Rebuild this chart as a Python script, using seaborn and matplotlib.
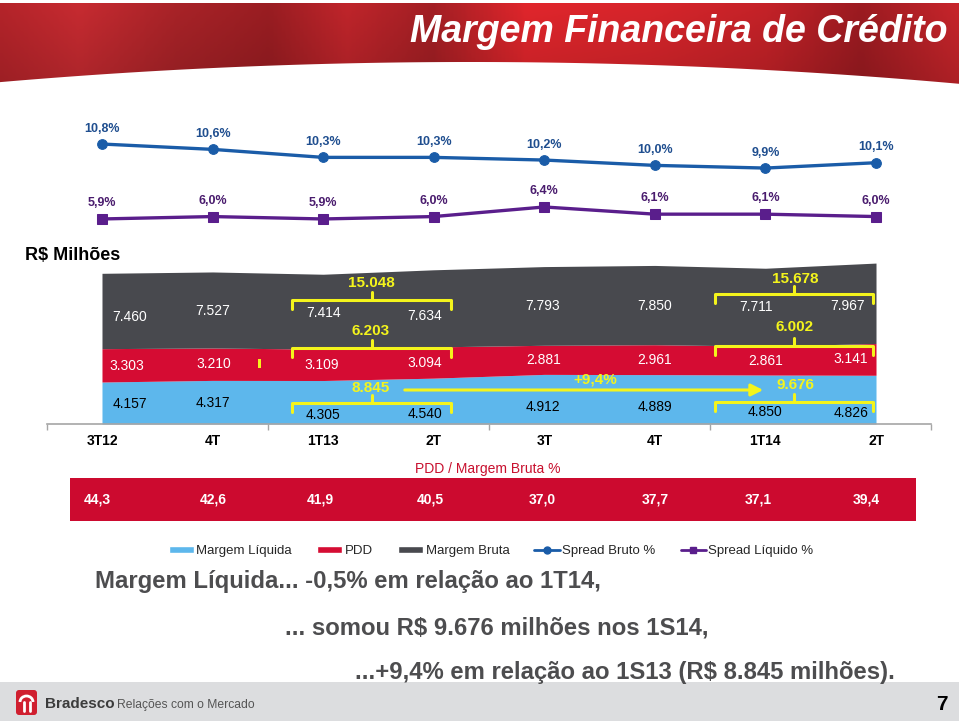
import numpy as np
import pandas as pd
import matplotlib
matplotlib.use('Agg')
import matplotlib.pyplot as plt
from matplotlib.colors import LinearSegmentedColormap
from matplotlib.lines import Line2D
from matplotlib.patches import Patch, Rectangle, FancyBboxPatch, Arc
import seaborn as sns

# Data
quarters = ['3T12', '4T', '1T13', '2T', '3T', '4T', '1T14', '2T']
spread_bruto = [10.8, 10.6, 10.3, 10.3, 10.2, 10.0, 9.9, 10.1]
spread_liquido = [5.9, 6.0, 5.9, 6.0, 6.4, 6.1, 6.1, 6.0]
margem_liquida = [4157, 4317, 4305, 4540, 4912, 4889, 4850, 4826]
pdd = [3303, 3210, 3109, 3094, 2881, 2961, 2861, 3141]
margem_bruta = [7460, 7527, 7414, 7634, 7793, 7850, 7711, 7967]
pdd_ratio = [44.3, 42.6, 41.9, 40.5, 37.0, 37.7, 37.1, 39.4]

df = pd.DataFrame({'idx': range(len(quarters)), 'bruto': spread_bruto, 'liquido': spread_liquido})

W, H = 959, 721
BLUE = '#1A5CA8'
BLUE_T = '#1F4E8F'
PURPLE = '#5A1E8C'
PURPLE_T = '#4A1C6E'
LBLUE = '#5DB7EC'
RED = '#D50C33'
DARK = '#48494E'
YEL = '#F4F41C'


def rect(l, t, r, b):
    # pixel box -> figure fraction
    return [l / W, 1 - b / H, (r - l) / W, (b - t) / H]


def br(v, d=0):
    # brazilian number format
    s = f'{v:,.{d}f}'
    return s.replace(',', 'X').replace('.', ',').replace('X', '.')


sns.set_theme(style='white')
plt.rcParams['font.family'] = ['Liberation Sans', 'DejaVu Sans']

fig = plt.figure(figsize=(W / 100, H / 100), dpi=100)
fig.patch.set_facecolor('white')

# ---- spreads (two lines on separate scales)
ax_l = fig.add_axes(rect(46.7, 120, 931.3, 230))
ax_r = ax_l.twinx()
sns.lineplot(data=df, x='idx', y='bruto', ax=ax_l, color=BLUE, linewidth=2.4,
             marker='o', markersize=7, markeredgecolor=BLUE)
sns.lineplot(data=df, x='idx', y='liquido', ax=ax_r, color=PURPLE, linewidth=2.4,
             marker='s', markersize=6.5, markeredgecolor=PURPLE)
ax_l.set_xlim(-0.5, 7.5)
ax_l.set_ylim(7.58, 11.70)
ax_r.set_ylim(5.44, 10.025)
for i, v in enumerate(spread_bruto):
    ax_l.annotate(br(v, 1) + '%', (i, v), xytext=(0, 11), textcoords='offset points',
                  ha='center', va='center', fontsize=9, fontweight='bold', color=BLUE_T)
for i, v in enumerate(spread_liquido):
    ax_r.annotate(br(v, 1) + '%', (i, v), xytext=(0, 11.5), textcoords='offset points',
                  ha='center', va='center', fontsize=9, fontweight='bold', color=PURPLE_T)
ax_l.set_axis_off()
ax_r.set_axis_off()

# ---- stacked areas
ax_a = fig.add_axes(rect(46.7, 258, 931.3, 424))
x = np.arange(len(quarters))
ax_a.stackplot(x, margem_liquida, pdd, margem_bruta, colors=[LBLUE, RED, DARK], linewidth=0)
ax_a.set_xlim(-0.5, 7.5)
ax_a.set_ylim(0, 16436)
for s in ['left', 'right', 'top']:
    ax_a.spines[s].set_visible(False)
ax_a.spines['bottom'].set_color('#A6A6A6')
ax_a.spines['bottom'].set_linewidth(1.2)
ax_a.set_yticks([])
ax_a.set_xticks(x)
ax_a.set_xticklabels(quarters, fontweight='bold', fontsize=10, color='black')
ax_a.set_xticks([-0.5, 1.5, 3.5, 5.5, 7.5], minor=True)
ax_a.tick_params(axis='x', which='major', length=0, pad=7)
ax_a.tick_params(axis='x', which='minor', length=4, width=1, color='#A6A6A6', bottom=True, direction='out')
ax_a.set_xlabel('')
ax_a.set_ylabel('')

# label nudges in pixels (layout only)
gx = [28, 0, 0, -9, -2, 0, -9, -28]
gy = [6, 1, 1, 8, 0, 1, 0, 3]
rx = [25, 1, -1, -9, -1, 0, 0, -25]
ry = [1, 0, 0, 0, 0, 0, 0, 0]
bx = [28, 0, 0, -9, -1, 0, 0, -25]
by = [1, 1, 13, 13, 8, 8, 12, 13]
for i in range(len(quarters)):
    ax_a.annotate(br(margem_bruta[i]), (i, margem_bruta[i] * 1.5),
                  xytext=(gx[i] * 0.72, -gy[i] * 0.72), textcoords='offset points',
                  ha='center', va='center', fontsize=10, color='white')
    ax_a.annotate(br(pdd[i]), (i, margem_liquida[i] + pdd[i] / 2),
                  xytext=(rx[i] * 0.72, -ry[i] * 0.72), textcoords='offset points',
                  ha='center', va='center', fontsize=10, color='white')
    ax_a.annotate(br(margem_liquida[i]), (i, margem_liquida[i] / 2),
                  xytext=(bx[i] * 0.72, -by[i] * 0.72), textcoords='offset points',
                  ha='center', va='center', fontsize=10, color='black')

# ---- PDD / Margem Bruta row
ax_b = fig.add_axes(rect(70, 478, 916, 521))
ax_b.set_facecolor('#CC0A2F')
ax_b.set_xlim((70 - 102) / 110.57, (916 - 102) / 110.57)
ax_b.set_ylim(0, 1)
ax_b.set_xticks([])
ax_b.set_yticks([])
for s in ax_b.spines.values():
    s.set_visible(False)
px_nudge = [-5, 1, -3, -3, -2, 0, -7, -10]
for i, v in enumerate(pdd_ratio):
    ax_b.annotate(br(v, 1), (i, 0.5), xytext=(px_nudge[i] * 0.72, 0), textcoords='offset points',
                  ha='center', va='center', fontsize=10, fontweight='bold', color='white')

# ---- overlay canvas in pixel coordinates
ax_c = fig.add_axes([0, 0, 1, 1], zorder=10)
ax_c.patch.set_visible(False)
ax_c.set_axis_off()

# banner
stops = [(0.0, '#B5242A'), (0.08, '#C72B31'), (0.18, '#A92328'), (0.28, '#9A1D22'),
         (0.36, '#C0252B'), (0.45, '#A31F24'), (0.55, '#E1262C'), (0.68, '#D7252B'),
         (0.8, '#C52228'), (0.9, '#9C1B21'), (1.0, '#C7252B')]
cmap = LinearSegmentedColormap.from_list('banner', stops)
rgb = cmap(np.linspace(0, 1, 480))[:, :3]
shade = np.linspace(1.0, 0.86, 60)
img = rgb[None, :, :] * shade[:, None, None]
ax_c.imshow(img, extent=(0, W, 88, 3), aspect='auto', interpolation='bilinear', zorder=0)
xs = np.linspace(0, W, 200)
curve = 62 + 21 * ((xs - 470) / 480) ** 2
ax_c.fill_between(xs, curve, 90, color='white', zorder=1, linewidth=0)
ax_c.text(948, 32, 'Margem Financeira de Crédito', ha='right', va='center', fontsize=27,
          fontweight='bold', fontstyle='italic', color='white', zorder=2)

ax_c.text(25, 256, 'R$ Milhões', ha='left', va='center', fontsize=13, fontweight='bold', color='black')


def bracket(x0, x1, y, drop=9, rise=8):
    ax_c.plot([x0, x0, x1, x1], [y + drop, y, y, y + drop], color=YEL, lw=2.2,
              solid_joinstyle='round', solid_capstyle='round')
    xm = (x0 + x1) / 2
    ax_c.plot([xm, xm], [y, y - rise], color=YEL, lw=2.2, solid_capstyle='round')


sem1 = [sum(margem_bruta[2:4]), sum(pdd[2:4]), sum(margem_liquida[2:4])]
sem2 = [sum(margem_bruta[6:8]), sum(pdd[6:8]), sum(margem_liquida[6:8])]
for (y_br, y_tx), v1 in zip([(300, 283), (348, 331), (403, 388)], sem1):
    bracket(292, 451, y_br)
    ax_c.text(371, y_tx, br(v1), ha='center', va='center', fontsize=11, fontweight='bold', color=YEL)
for (y_br, y_tx), v2 in zip([(294, 279), (346, 327), (402, 385)], sem2):
    bracket(715, 873, y_br)
    ax_c.text(795, y_tx, br(v2), ha='center', va='center', fontsize=11, fontweight='bold', color=YEL)

growth = (sem2[2] / sem1[2] - 1) * 100
ax_c.annotate('', xy=(766, 390), xytext=(402, 390),
              arrowprops=dict(arrowstyle='-|>', color=YEL, lw=2.2, mutation_scale=18))
ax_c.text(595, 380, '+' + br(growth, 1) + '%', ha='center', va='center', fontsize=11,
          fontweight='bold', color=YEL)
ax_c.add_patch(Rectangle((257.5, 359), 3.5, 9, color=YEL, lw=0))

ax_c.text(488, 469, 'PDD / Margem Bruta %', ha='center', va='center', fontsize=10, color='#C8102E')

# legend
handles = [Patch(facecolor=LBLUE), Patch(facecolor=RED), Patch(facecolor=DARK),
           Line2D([], [], color=BLUE, lw=2, marker='o', markersize=5),
           Line2D([], [], color=PURPLE, lw=2, marker='s', markersize=5)]
labels = ['Margem Líquida', 'PDD', 'Margem Bruta', 'Spread Bruto %', 'Spread Líquido %']
fig.legend(handles, labels, loc='center', bbox_to_anchor=(491 / W, 1 - 551 / H), ncol=5,
           frameon=False, fontsize=9.5, handlelength=1.9, handleheight=0.5,
           handletextpad=0.2, columnspacing=1.9)

# commentary
TXT = '#4D4D4F'
ax_c.text(95, 588, 'Margem Líquida... -0,5% em relação ao 1T14,', fontsize=17.2,
          fontweight='bold', color=TXT, va='baseline')
ax_c.text(285, 635, '... somou R$ 9.676 milhões nos 1S14,', fontsize=17.2,
          fontweight='bold', color=TXT, va='baseline')
ax_c.text(355, 679, '...+9,4% em relação ao 1S13 (R$ 8.845 milhões).', fontsize=17.2,
          fontweight='bold', color=TXT, va='baseline')

# footer
ax_c.add_patch(Rectangle((0, 682), W, 39, color='#DCDDDF', lw=0))
ax_c.add_patch(FancyBboxPatch((16, 690), 21, 25, boxstyle='round,pad=0,rounding_size=3',
                              color='#D01F2F', lw=0))
ax_c.add_patch(Arc((26.5, 702), 13, 12, theta1=180, theta2=360, color='white', lw=2))
ax_c.plot([23.5, 23.5], [702, 711], color='white', lw=2)
ax_c.plot([29.5, 29.5], [702, 711], color='white', lw=2)
ax_c.text(45, 704, 'Bradesco', ha='left', va='center', fontsize=11, fontweight='bold', color='#3C3C3C')
ax_c.text(117, 705, 'Relações com o Mercado', ha='left', va='center', fontsize=8.7, color='#555555')
ax_c.text(942, 705, '7', ha='center', va='center', fontsize=15, fontweight='bold', color='black')

ax_c.set_xlim(0, W)
ax_c.set_ylim(H, 0)

fig.savefig('out.png', dpi=100)
